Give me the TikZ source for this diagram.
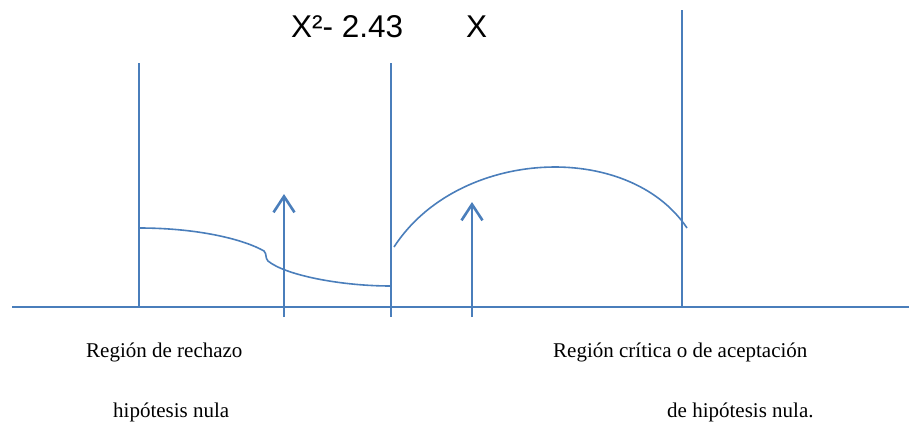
\documentclass[tikz,border=0pt]{standalone}
\usepackage{fontspec}
\setmainfont{Liberation Serif}
\newfontfamily\arialfont{Liberation Sans}
\usetikzlibrary{arrows.meta}
\definecolor{lineblue}{RGB}{74,126,187}
\begin{document}
\begin{tikzpicture}[x=1pt,y=-1pt,
  thinline/.style={draw=lineblue,line width=1.6pt},
  axisline/.style={draw=lineblue,line width=2.2pt},
  uparrow/.style={draw=lineblue,line width=2.8pt,-{Straight Barb[length=16pt,width=21pt,line width=2.6pt]}},
  toplabel/.style={anchor=base west,inner sep=0pt,font=\arialfont\fontsize{31.5}{36}\selectfont},
  botlabel/.style={anchor=base west,inner sep=0pt,font=\fontsize{21}{24}\selectfont}]
\useasboundingbox (0,0) rectangle (909,423);
% coordinates
\coordinate (axL) at (12,307);
\coordinate (axR) at (909,307);
\coordinate (v1t) at (139,63);  \coordinate (v1b) at (139,307);
\coordinate (v2t) at (391,63);  \coordinate (v2b) at (391,317);
\coordinate (v3t) at (682,10);  \coordinate (v3b) at (682,307);
\coordinate (a1b) at (284,317); \coordinate (a1t) at (284,194);
\coordinate (a2b) at (472,317); \coordinate (a2t) at (472,202);
% axis and verticals
\draw[axisline] (axL) -- (axR);
\draw[thinline] (v1t) -- (v1b);
\draw[thinline] (v2t) -- (v2b);
\draw[thinline] (v3t) -- (v3b);
% left curve
\draw[thinline] (139,228) .. controls (200,228) and (245,240) .. (264,251)
  .. controls (267,254) and (265,258) .. (268,261)
  .. controls (285,275) and (340,286) .. (391,286);
% arc
\draw[thinline] (394,247) .. controls (458,148) and (628,140) .. (687,228);
% arrows
\draw[uparrow] (a1b) -- (a1t);
\draw[uparrow] (a2b) -- (a2t);
% labels
\node[toplabel] (t1) at (291,37) {X²- 2.43};
\node[toplabel] (t2) at (466,37) {X};
\node[botlabel] (b1) at (86,357) {Región de rechazo};
\node[botlabel] (b2) at (113,417) {hipótesis nula};
\node[botlabel] (b3) at (553,357) {Región crítica o de aceptación};
\node[botlabel] (b4) at (667,417) {de hipótesis nula.};
\end{tikzpicture}
\end{document}
